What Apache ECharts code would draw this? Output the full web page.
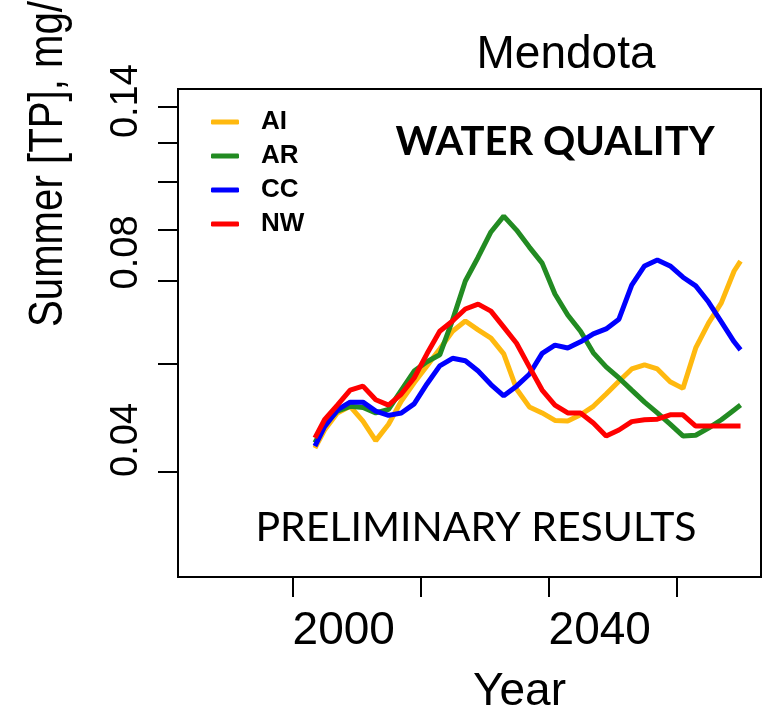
<!DOCTYPE html>
<html>
<head>
<meta charset="utf-8">
<title>Mendota</title>
<script src="https://cdn.jsdelivr.net/npm/echarts@6.0.0/dist/echarts.min.js"></script>
<style>
  html, body { margin: 0; padding: 0; background: #fff; }
  #chart { width: 762px; height: 710px; }
</style>
</head>
<body>
<div id="chart"></div>
<script>
// years of the smoothed series
const years = [1995.5, 1997, 1999, 2001, 2003, 2005, 2007, 2009, 2011, 2013, 2015, 2017,
  2019, 2021, 2023, 2025, 2027, 2029, 2031, 2033, 2035, 2037, 2039, 2041, 2043, 2045,
  2047, 2049, 2051, 2053, 2055, 2057, 2059, 2061, 2062];

// summer TP, mg/L
const aiValues = [0.0388, 0.0415, 0.0442, 0.0453, 0.0429, 0.0399, 0.0424, 0.0462, 0.0494, 0.0526, 0.0560, 0.0598,
  0.0621, 0.0601, 0.0583, 0.0550, 0.0483, 0.0452, 0.0442, 0.0430, 0.0429, 0.0439, 0.0453, 0.0474, 0.0497, 0.0520,
  0.0528, 0.0520, 0.0496, 0.0484, 0.0562, 0.0616, 0.0664, 0.0747, 0.0775];
const arValues = [0.0396, 0.0423, 0.0445, 0.0453, 0.0451, 0.0442, 0.0448, 0.0481, 0.0516, 0.0534, 0.0548, 0.0623,
  0.0720, 0.0786, 0.0863, 0.0915, 0.0869, 0.0816, 0.0769, 0.0686, 0.0635, 0.0598, 0.0552, 0.0524, 0.0503, 0.0481,
  0.0460, 0.0442, 0.0424, 0.0406, 0.0407, 0.0418, 0.0431, 0.0447, 0.0455];
const ccValues = [0.0391, 0.0420, 0.0447, 0.0460, 0.0460, 0.0445, 0.0438, 0.0442, 0.0457, 0.0492, 0.0526, 0.0541,
  0.0536, 0.0516, 0.0491, 0.0471, 0.0488, 0.0510, 0.0551, 0.0568, 0.0562, 0.0575, 0.0592, 0.0603, 0.0625, 0.0709,
  0.0761, 0.0778, 0.0761, 0.0730, 0.0707, 0.0666, 0.0619, 0.0575, 0.0558];
const nwValues = [0.0403, 0.0431, 0.0455, 0.0481, 0.0488, 0.0464, 0.0455, 0.0474, 0.0503, 0.0550, 0.0598, 0.0621,
  0.0649, 0.0661, 0.0644, 0.0607, 0.0572, 0.0524, 0.0481, 0.0455, 0.0442, 0.0442, 0.0426, 0.0406, 0.0415, 0.0428,
  0.0431, 0.0432, 0.0439, 0.0439, 0.0421, 0.0421, 0.0421, 0.0421, 0.0421];

// axis ticks and labels
const xTickValues = [1992, 2012, 2032, 2052];
const xLabelValues = [2000, 2040];
const yTickValues = [0.137, 0.120, 0.104, 0.087, 0.072, 0.053, 0.0355];
const yLabelValues = [0.04, 0.08, 0.14];

const seriesNames = ['AI', 'AR', 'CC', 'NW'];
const seriesValues = [aiValues, arValues, ccValues, nwValues];
const colors = ['#FFB90F', '#228B22', '#0000FF', '#FF0000'];

const chart = echarts.init(document.getElementById('chart'), null, { renderer: 'canvas' });

const font = 'Liberation Sans';

chart.setOption({
  animation: false,
  color: colors,
  title: [
    {
      text: 'Mendota',
      left: 561, top: 27, textAlign: 'center',
      textStyle: { fontFamily: font, fontSize: 46, fontWeight: 'normal', color: '#000' }
    },
    {
      text: 'WATER QUALITY',
      left: 550, top: 117, textAlign: 'center',
      textStyle: { fontFamily: 'Lato', fontSize: 40, fontWeight: 'bold', color: '#000' }
    },
    {
      text: 'PRELIMINARY RESULTS',
      left: 471, top: 502, textAlign: 'center',
      textStyle: { fontFamily: 'Lato', fontSize: 41, fontWeight: 'normal', color: '#000' }
    }
  ],
  legend: {
    data: seriesNames,
    orient: 'vertical',
    left: 206, top: 104,
    itemWidth: 28, itemHeight: 5, itemGap: 8,
    icon: 'roundRect',
    textStyle: { fontFamily: font, fontSize: 26, fontWeight: 'bold', color: '#000', padding: [0, 0, 0, 17] }
  },
  grid: {
    left: 178, top: 89, right: 1, bottom: 133,
    outerBoundsMode: 'none',
    show: true, borderColor: '#000', borderWidth: 2, backgroundColor: 'transparent'
  },
  xAxis: {
    type: 'value',
    min: 1974.1, max: 2065.2,
    name: 'Year',
    nameLocation: 'middle',
    nameGap: 92,
    nameTextStyle: { fontFamily: font, fontSize: 46, color: '#000', padding: [0, 0, 0, 100] },
    axisLine: { show: false },
    splitLine: { show: false },
    axisTick: {
      show: true, length: 20, customValues: xTickValues,
      lineStyle: { color: '#000', width: 2 }
    },
    axisLabel: {
      customValues: xLabelValues, margin: 31,
      formatter: v => String(v),
      fontFamily: font, fontSize: 46, color: '#000'
    }
  },
  yAxis: {
    type: 'log',
    min: 0.0241, max: 0.1464,
    axisLine: { show: false },
    splitLine: { show: false },
    axisTick: {
      show: true, length: 20, customValues: yTickValues,
      lineStyle: { color: '#000', width: 2 }
    },
    axisLabel: {
      customValues: yLabelValues, rotate: 90, margin: 32,
      fontFamily: font, fontSize: 38, color: '#000'
    }
  },
  graphic: [
    {
      type: 'text',
      x: 48, y: 327,
      rotation: Math.PI / 2,
      scaleX: 0.82,
      style: {
        text: 'Summer [TP], mg/L',
        fontFamily: font, fontSize: 49, fill: '#000',
        align: 'left', verticalAlign: 'middle'
      }
    }
  ],
  series: seriesNames.map((name, i) => ({
    name: name,
    type: 'line',
    showSymbol: false,
    smooth: false,
    lineStyle: { width: 5, color: colors[i] },
    itemStyle: { color: colors[i] },
    data: years.map((yr, j) => [yr, seriesValues[i][j]])
  }))
});
</script>
</body>
</html>
